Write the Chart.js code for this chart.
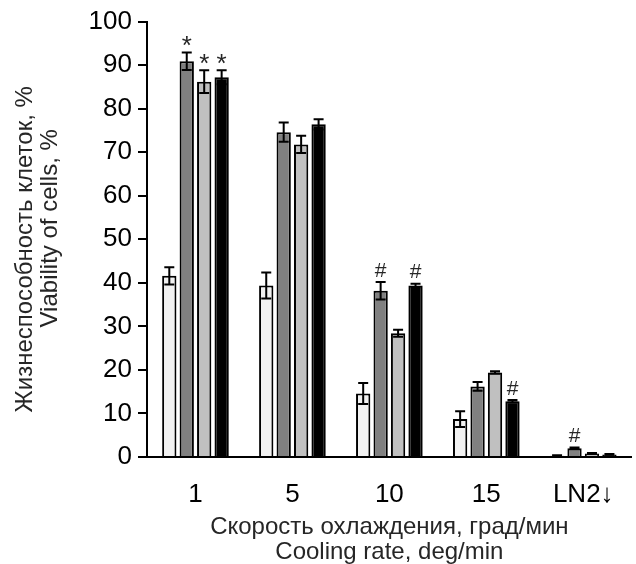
<!DOCTYPE html>
<html>
<head>
<meta charset="utf-8">
<script src="https://cdn.jsdelivr.net/npm/chart.js@4/dist/chart.umd.min.js"></script>
<style>
  html, body { margin: 0; padding: 0; background: #fff; }
  #wrap { width: 636px; height: 564px; }
</style>
</head>
<body>
<div id="wrap"><canvas id="chart" width="636" height="564"></canvas></div>
<script>
const categories = ['1', '5', '10', '15', 'LN2\u2193'];

// four series, values in %
const series1 = [41.6, 39.4, 14.6, 8.7, 0.3];
const series2 = [90.9, 74.6, 38.2, 16.2, 2.0];
const series3 = [86.2, 71.8, 28.4, 19.4, 0.8];
const series4 = [87.2, 76.4, 39.4, 12.8, 0.6];

const errors1 = [2.0, 3.0, 2.4, 1.8, 0.1];
const errors2 = [2.0, 2.2, 2.0, 1.0, 0.2];
const errors3 = [2.6, 2.0, 0.8, 0.3, 0.1];
const errors4 = [1.6, 1.2, 0.4, 0.3, 0.1];

const marks1 = ['', '', '', '', ''];
const marks2 = ['*', '', '#', '', '#'];
const marks3 = ['*', '', '', '', ''];
const marks4 = ['*', '', '#', '#', ''];

const yTicks = [0, 10, 20, 30, 40, 50, 60, 70, 80, 90, 100];
const yTitle = ['Жизнеспособность клеток, %', 'Viability of cells, %'];
const xTitle = ['Скорость охлаждения, град/мин', 'Cooling rate, deg/min'];

const fontName = '"Liberation Sans", Arial, sans-serif';

const errorBars = {
  id: 'errorBars',
  afterDatasetsDraw(chart) {
    const ctx = chart.ctx;
    const y = chart.scales.y;
    chart.data.datasets.forEach((ds, i) => {
      const meta = chart.getDatasetMeta(i);
      meta.data.forEach((bar, j) => {
        const v = ds.data[j];
        const e = ds.errors[j];
        const top = y.getPixelForValue(v + e);
        const bot = y.getPixelForValue(v - e);
        ctx.save();
        ctx.strokeStyle = '#000';
        ctx.lineWidth = 2;
        ctx.beginPath();
        ctx.moveTo(bar.x, top);
        ctx.lineTo(bar.x, bot);
        ctx.moveTo(bar.x - 5, top);
        ctx.lineTo(bar.x + 5, top);
        ctx.moveTo(bar.x - 5, bot);
        ctx.lineTo(bar.x + 5, bot);
        ctx.stroke();
        const m = ds.marks[j];
        if (m) {
          // glyph centre about 13px above the whisker
          const size = m === '*' ? 26 : 21;
          const rise = m === '*' ? 0.57 : 0.36;
          ctx.fillStyle = '#262626';
          ctx.textAlign = 'center';
          ctx.textBaseline = 'alphabetic';
          ctx.font = size + 'px ' + fontName;
          ctx.fillText(m, bar.x, top - 13 + rise * size);
        }
        ctx.restore();
      });
    });
  }
};

// two-line rotated y title, lines end near the same height like in the source
const yTitleDraw = {
  id: 'yTitleDraw',
  afterDraw(chart) {
    const ctx = chart.ctx;
    const mid = (chart.chartArea.top + chart.chartArea.bottom) / 2;
    ctx.save();
    ctx.fillStyle = '#262626';
    ctx.font = '24px ' + fontName;
    ctx.textAlign = 'center';
    ctx.textBaseline = 'middle';
    ctx.translate(25, mid + 10);
    ctx.rotate(-Math.PI / 2);
    ctx.fillText(yTitle[0], 0, 0);
    ctx.restore();
    ctx.save();
    ctx.fillStyle = '#262626';
    ctx.font = '24px ' + fontName;
    ctx.textAlign = 'center';
    ctx.textBaseline = 'middle';
    ctx.translate(50, mid - 11);
    ctx.rotate(-Math.PI / 2);
    ctx.fillText(yTitle[1], 0, 0);
    ctx.restore();
  }
};

const makeSet = (label, data, errors, marks, color) => ({
  label: label,
  data: data,
  errors: errors,
  marks: marks,
  backgroundColor: color,
  borderColor: '#000',
  borderWidth: 2,
  borderSkipped: 'bottom',
  barPercentage: 0.82,
  categoryPercentage: 0.72
});

new Chart(document.getElementById('chart'), {
  type: 'bar',
  data: {
    labels: categories,
    datasets: [
      makeSet('s1', series1, errors1, marks1, '#f2f2f2'),
      makeSet('s2', series2, errors2, marks2, '#808080'),
      makeSet('s3', series3, errors3, marks3, '#c0c0c0'),
      makeSet('s4', series4, errors4, marks4, '#000000')
    ]
  },
  options: {
    responsive: false,
    animation: false,
    layout: { padding: { top: 8, right: 4, left: 0, bottom: 0 } },
    plugins: {
      legend: { display: false },
      tooltip: { enabled: false }
    },
    scales: {
      x: {
        grid: { display: false, drawTicks: false },
        border: { display: true, color: '#000', width: 2 },
        ticks: {
          color: '#000',
          padding: 22,
          font: { family: fontName, size: 26 }
        },
        title: {
          display: true,
          text: xTitle,
          color: '#262626',
          font: { family: fontName, size: 24, lineHeight: 1.05 },
          padding: { top: 4, bottom: -1 }
        },
        afterFit(scale) { scale.height = 107; }
      },
      y: {
        min: 0,
        max: 100,
        afterBuildTicks(scale) { scale.ticks = yTicks.map(v => ({ value: v })); },
        grid: {
          drawOnChartArea: false,
          drawTicks: true,
          tickLength: 9,
          color: '#000',
          lineWidth: 2
        },
        border: { display: true, color: '#000', width: 2 },
        ticks: {
          color: '#000',
          padding: 6,
          font: { family: fontName, size: 26 }
        },
        title: { display: false },
        afterFit(scale) { scale.width = 147; }
      }
    }
  },
  plugins: [errorBars, yTitleDraw]
});
</script>
</body>
</html>
